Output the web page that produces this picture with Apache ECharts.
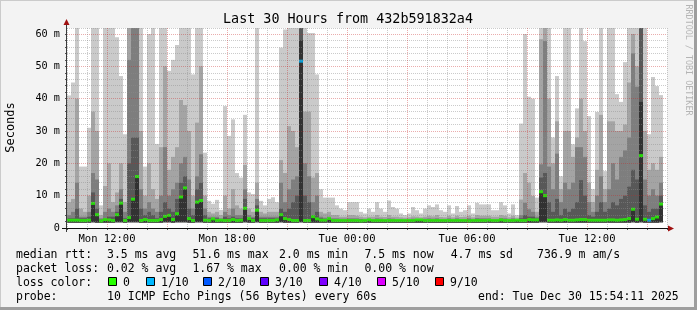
<!DOCTYPE html>
<html><head><meta charset="utf-8">
<script src="https://cdn.jsdelivr.net/npm/echarts@6/dist/echarts.min.js"></script>
<style>html,body{margin:0;padding:0;background:#f3f3f3}#c{width:697px;height:310px}</style>
</head><body><div id="c"></div>
<script>
// ---- data: one entry per 12-minute column (150 columns = 30 hours), values in ms ----
const med = [
2.4,2.4,2.4,2.3,2.3,2.4,7.6,4.1,2.2,2.6, 2.5,2.3,4.1,7.7,2.3,3.2,8.9,15.9,2.3,2.6,
2.3,2.3,2.3,2.6,3.6,3.9,2.6,4.4,9.6,12.4, 2.9,2.3,8.0,8.5,2.4,2.3,2.8,2.3,2.4,2.3,
2.3,2.6,2.3,2.4,6.1,2.9,2.3,5.5,2.3,2.3, 2.3,2.3,2.5,4.1,2.9,2.6,2.3,2.3,51.6,2.3,
2.3,3.5,2.8,2.4,2.4,2.9,2.3,2.3,2.3,2.3, 2.3,2.3,2.3,2.2,2.3,2.5,2.3,2.3,2.3,2.3,
2.3,2.3,2.3,2.3,2.3,2.3,2.3,2.5,2.5,2.3, 2.3,2.3,2.3,2.3,2.3,2.3,2.3,2.3,2.3,2.3,
2.2,2.3,2.3,2.3,2.3,2.4,2.3,2.3,2.5,2.3, 2.3,2.3,2.4,2.3,2.3,2.6,2.5,2.5,11.2,10.0,
2.4,2.4,2.5,2.4,2.6,2.4,2.4,2.5,2.6,2.6, 2.4,2.4,2.4,2.4,2.4,2.5,2.5,2.4,2.5,2.6,
2.9,5.8,2.7,22.4,2.7,2.4,2.9,3.4,7.4,null];
const minRtt = [
1.6,1.6,1.6,1.6,1.6,1.6,1.7,1.6,1.6,1.6, 1.6,1.6,1.7,1.7,1.6,1.7,1.7,1.7,1.6,1.6,
1.6,1.6,1.6,1.6,1.7,1.7,1.6,1.7,1.7,1.7, 1.6,1.6,1.7,1.7,1.6,1.6,1.6,1.6,1.6,1.6,
1.6,1.6,1.6,1.6,1.7,1.6,1.6,1.7,1.6,1.6, 1.6,1.6,1.6,1.7,1.6,1.6,1.6,1.6,1.7,1.6,
1.6,1.6,1.6,1.6,1.6,1.6,1.6,1.6,1.6,1.6, 1.6,1.6,1.6,1.6,1.6,1.6,1.6,1.6,1.6,1.6,
1.6,1.6,1.6,1.6,1.6,1.6,1.6,1.6,1.6,1.6, 1.6,1.6,1.6,1.6,1.6,1.6,1.6,1.6,1.6,1.6,
1.6,1.6,1.6,1.6,1.6,1.6,1.6,1.6,1.6,1.6, 1.6,1.6,1.6,1.6,1.6,1.6,1.6,1.6,1.7,1.7,
1.6,1.6,1.6,1.6,1.6,1.6,1.6,1.6,1.6,1.6, 1.6,1.6,1.6,1.6,1.6,1.6,1.6,1.6,1.6,1.6,
1.6,1.7,1.6,1.7,1.6,1.6,1.6,1.6,1.7,null];
const p7 = [
3,3,6,3,3,3.5,11,6,2.6,3, 3.5,3.5,5,9,3,20,28,28,6,4,
5,4,3,5,8,6,5,9,14,16, 6,4,12,14,4,3,3,3,2.7,3.5,
3,3.5,3,3,9,3,3,7,3,3, 3,3,3,6,5,6,8,10,62,10,
8,4,5,3,2.8,3,2.7,2.6,2.6,2.6, 2.7,2.7,2.6,2.6,2.5,2.6,2.5,2.6,2.6,2.5,
2.6,2.6,2.5,2.5,2.5,2.5,2.6,2.5,2.5,2.6, 2.6,2.6,2.7,2.5,2.5,2.6,2.5,2.6,2.5,2.5,
2.6,2.5,2.7,2.7,2.6,2.6,2.5,2.5,2.7,2.6, 2.5,2.6,2.5,3,4,3.5,3.5,3,15.6,17,
8,5,9,4,6,5,6,8,14.8,10, 4,3.5,5,8,5,6,8,7,9,10,
12.8,18,15,62,7,5,6,6,10,null];
const p8 = [
4,5,14,3.5,3.5,5,17,15,3,5, 6,5,7,12,5,52,62,62,12,6,
8,6,5,10,25,10,12,14,20,22, 15,6,16,22.8,6,3.5,3.5,3.5,3,5,
4,6,4,4,12,4,3.5,9,3.5,3.5, 3.5,3.5,3.5,14,8,12,15,16,62,20,
16,8,10,3.5,3.2,3.5,3,3,2.9,2.9, 3,3,3,2.8,2.8,2.9,2.8,3,2.9,2.8,
3,2.9,2.8,2.8,2.7,2.8,2.9,2.8,2.8,2.9, 3,2.9,3,2.8,2.8,3,2.8,3,2.8,2.8,
3,2.8,3.1,3,3,3,2.8,2.8,3.1,3, 2.8,3,2.7,4,7.8,5.8,5,3.5,19.7,57.8,
19,12,23,8,14,12,14,25,25,22, 8,5,10,16,8,12,20,15,22,24,
28,54,43.7,62,15,10,12,10,14,null];
const p9 = [
8,9,40,6,5,10,36,30,4,13, 20,8,11,20,8,62,62,62,30,10,
20,12,9,25,50,18,22,25,39.6,38, 30,10,32.6,50,10,5,4.5,5,4,10,
6,12,7,6,19.5,6,5,14,5,4.5, 5,5,5,21,17,31.5,30,25,62,36,
36,15.6,17,5,4.5,5,4,4,3.5,3.5, 4,4,3.8,3.5,3.3,3.5,3.5,4,3.5,3.4,
4,3.5,3.5,3.3,3.2,3.3,3.6,3.5,3.3,3.5, 3.8,3.6,4,3.4,3.3,3.8,3.3,3.8,3.4,3.5,
3.8,3.3,4,3.8,3.8,3.8,3.5,3.5,4,3.8, 3.3,3.8,3.2,8.8,17,14,9.9,5,58.4,62,
40,20,33,12,30,30,22,28,40,30, 14,8,18,35,12,33,33,30,30,32,
45,60,50,62,30,18,20,18,22,null];
const p10 = [
41,45,62,19,19,31,62,62,7,62, 62,62,59,47,29,62,62,62,62,19,
60,62,26,62,62,48.6,52,56.6,62,62, 62,47.5,62,62,23.3,8.4,7.5,8.7,5.6,37.7,
28.5,33.6,17,15.6,35,11,10.5,62,8.4,7, 9,9.5,8,55.8,61.4,62,62,62,62,62,
60.3,60.3,47.5,12,9.4,9.4,9.4,7,6,5.5, 8,8,8,5,4.5,6,5,8,6,5,
8.5,6.5,6,4.5,4,4.5,6.5,5.5,4.5,6, 7,6.5,7.3,5.5,5,7,4.5,6.8,5,5.5,
7,4.5,7.8,7.3,7.3,7.3,5.5,5.5,8,7, 4.5,7.3,4,32.3,60,40.6,40,9.4,62,62,
62,28,47,16,62,62,25.9,37,62,57.8, 34.6,12,35.9,62,17.6,62,62,41.4,39,51.3,
62,62,62,62,62,29,46.7,43.9,41.1,null];
// dark (#323232) smoke reaching above the median in these columns
const darkCols = [58, 143];
const darkTops = [58, 39];
// columns with packet loss (x/10 pings lost)
const lossCols = [58, 145];
const lossVals = [1, 1];
// axis ticks
const tickCols = [10, 40, 70, 100, 130];
const tickLabels = ['Mon 12:00', 'Mon 18:00', 'Tue 00:00', 'Tue 06:00', 'Tue 12:00'];
// legend texts
const rttStats = ['3.5 ms avg', '51.6 ms max', '2.0 ms min', '7.5 ms now', '4.7 ms sd', '736.9 m am/s'];
const lossStats = ['0.02 % avg', '1.67 % max', '0.00 % min', '0.00 % now'];
const lossLabels = ['0', '1/10', '2/10', '3/10', '4/10', '5/10', '9/10'];
const lossColors = ['#26ff00', '#00b8ff', '#0059ff', '#5e00ff', '#7e00ff', '#dd00ff', '#ff0000'];
const probeText = '10 ICMP Echo Pings (56 Bytes) every 60s';
const endText = 'end: Tue Dec 30 15:54:11 2025';
const titleText = 'Last 30 Hours from 432b591832a4';

// ---- build ----
const YMAX = 61.86;
const N = med.length;
const FONT = '"DejaVu Sans Mono", monospace';
const p6 = med.map((m, i) => { const k = darkCols.indexOf(i); return k >= 0 ? darkTops[k] : m; });
// overlapping bars from 0, tallest (lightest) first, darker ones drawn over them
const layers = [
  [p10, '#cacaca'], [p9, '#a4a4a4'], [p8, '#7e7e7e'], [p7, '#585858'],
  [p6, '#323232'], [med, '#323232'], [minRtt, '#ffffff']
];
const series = layers.map(([arr, color], k) => ({
  type: 'bar', barWidth: 4, barGap: '-100%', silent: true, animation: false, z: 2,
  itemStyle: { color },
  data: arr.map((v, i) => [i + 0.5, v == null ? null : Math.min(v, YMAX)])
}));
series.push({
  type: 'scatter', symbol: 'rect', symbolSize: [4, 3], silent: true, animation: false, z: 3,
  data: med.map((m, i) => {
    if (m == null) return [i + 0.5, null];
    const k = lossCols.indexOf(i);
    const c = lossColors[k >= 0 ? lossVals[k] : 0];
    return { value: [i + 0.5, m], itemStyle: { color: c } };
  })
});

const GRID = 'rgba(140,140,140,0.45)';
const MGRID = 'rgba(200,40,40,0.38)';
const graphic = [];
// frame
graphic.push({ type: 'rect', shape: { x: 0, y: 0, width: 697, height: 1 }, style: { fill: '#cbcbcb' }, silent: true });
graphic.push({ type: 'rect', shape: { x: 0, y: 0, width: 1, height: 310 }, style: { fill: '#cbcbcb' }, silent: true });
graphic.push({ type: 'rect', shape: { x: 694, y: 0, width: 3, height: 310 }, style: { fill: '#9e9e9e' }, silent: true });
graphic.push({ type: 'rect', shape: { x: 0, y: 307, width: 697, height: 3 }, style: { fill: '#9e9e9e' }, silent: true });
// axes lines + arrows
graphic.push({ type: 'line', z: 50, shape: { x1: 66.5, y1: 232, x2: 66.5, y2: 24 }, style: { stroke: '#3a3a3a', lineWidth: 1 }, silent: true });
graphic.push({ type: 'line', z: 50, shape: { x1: 62, y1: 228.5, x2: 669, y2: 228.5 }, style: { stroke: '#111', lineWidth: 1 }, silent: true });
graphic.push({ type: 'polygon', z: 51, shape: { points: [[63.5, 25], [69.5, 25], [66.5, 19]] }, style: { fill: '#a01010' }, silent: true });
graphic.push({ type: 'polygon', z: 51, shape: { points: [[668, 225.5], [668, 231.5], [674, 228.5]] }, style: { fill: '#a01010' }, silent: true });
// titles
graphic.push({ type: 'text', x: 348, y: 19.5, style: { text: titleText, font: '13.4px ' + FONT, fill: '#000', textAlign: 'center', textVerticalAlign: 'middle' }, silent: true });
graphic.push({ type: 'text', x: 11, y: 127.5, rotation: Math.PI / 2, style: { text: 'Seconds', font: '12px ' + FONT, fill: '#000', textAlign: 'center', textVerticalAlign: 'middle' }, silent: true });
graphic.push({ type: 'text', x: 688.5, y: 60, rotation: -Math.PI / 2, style: { text: 'RRDTOOL / TOBI OETIKER', font: '8.4px ' + FONT, fill: '#b4b4b4', textAlign: 'center', textVerticalAlign: 'middle' }, silent: true });
// legend
const LF = '11.5px ' + FONT;
const rowY = [255.5, 269, 283, 297];
const colX = [107, 192.4, 279, 364.4, 450.7, 537];
function txt(s, x, y) { graphic.push({ type: 'text', x, y, style: { text: s, font: LF, fill: '#000', textAlign: 'left', textVerticalAlign: 'middle' }, silent: true }); }
txt('median rtt:', 16, rowY[0]);
rttStats.forEach((s, i) => txt(s, colX[i], rowY[0]));
txt('packet loss:', 16, rowY[1]);
lossStats.forEach((s, i) => txt(s, colX[i], rowY[1]));
txt('loss color:', 16, rowY[2]);
const boxX = [108, 146, 203, 260, 319, 377, 435];
lossLabels.forEach((s, i) => {
  graphic.push({ type: 'rect', shape: { x: boxX[i] + 0.5, y: 277.5, width: 8, height: 8 }, style: { fill: lossColors[i], stroke: '#000', lineWidth: 1 }, silent: true });
  txt(s, boxX[i] + 15, rowY[2]);
});
txt('probe:', 16, rowY[3]);
txt(probeText, 107, rowY[3]);
txt(endText, 478, rowY[3]);

const option = {
  backgroundColor: '#f3f3f3',
  animation: false,
  grid: { left: 67, top: 28, width: 600, height: 200, show: true, backgroundColor: '#ffffff', borderWidth: 0 },
  xAxis: {
    type: 'value', min: 0, max: N, interval: 5, z: 10,
    axisLine: { show: false },
    axisTick: { show: true, length: 2, lineStyle: { color: '#555' } },
    axisLabel: {
      margin: 6, fontFamily: FONT, fontSize: 10.5, color: '#000', showMinLabel: true, showMaxLabel: true,
      formatter: v => { const k = tickCols.indexOf(v); return k >= 0 ? tickLabels[k] : ''; }
    },
    splitLine: { show: true, lineStyle: { color: [GRID, GRID, MGRID], type: [1, 1], width: 1 } }
  },
  yAxis: {
    type: 'value', min: 0, max: YMAX, interval: 2, z: 10,
    axisLine: { show: false },
    axisTick: { show: true, length: 2, lineStyle: { color: '#555' } },
    axisLabel: {
      margin: 7, fontFamily: FONT, fontSize: 10.2, color: '#000', showMaxLabel: false,
      formatter: v => (Math.abs(v % 10) < 1e-9) ? (v === 0 ? '0' : v + ' m') : ''
    },
    splitLine: { show: true, lineStyle: { color: [MGRID, GRID, GRID, GRID, GRID], type: [1, 1], width: 1 } }
  },
  series,
  graphic
};
const chart = echarts.init(document.getElementById('c'), null, { renderer: 'canvas' });
chart.setOption(option);
</script></body></html>
